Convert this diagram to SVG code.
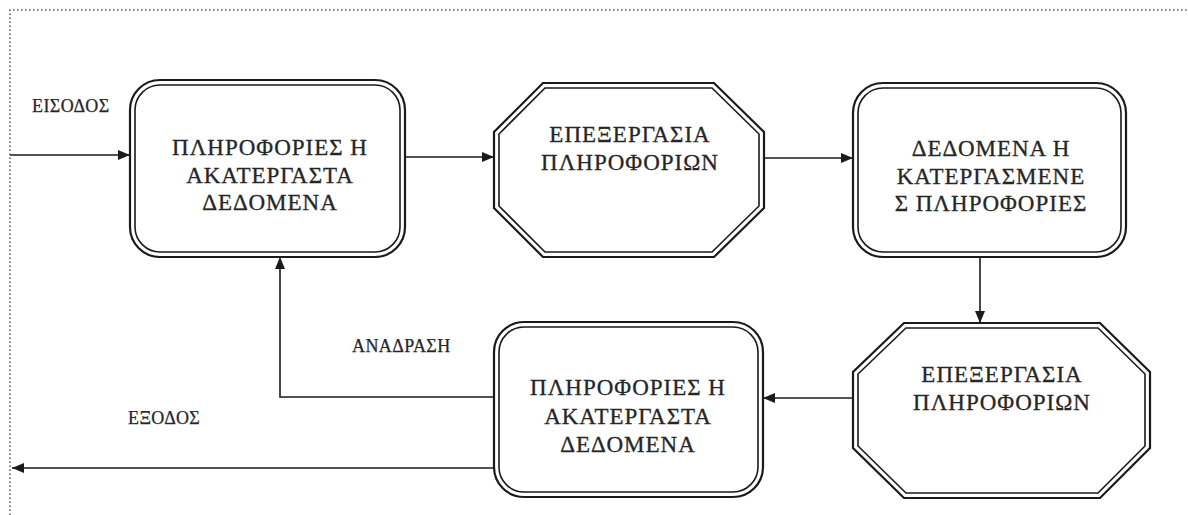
<svg xmlns="http://www.w3.org/2000/svg" width="1188" height="515" viewBox="0 0 1188 515">
  <style>
    .frame { fill: none; stroke: #555; stroke-width: 1.5; stroke-dasharray: 1.5 2.5; }
    .outer { fill: none; stroke: #1a1a1a; stroke-width: 2.2; }
    .inner { fill: none; stroke: #1a1a1a; stroke-width: 1.6; }
    .wire { fill: none; stroke: #1a1a1a; stroke-width: 1.6; }
    .box-text { font-family: "Liberation Serif", "Times New Roman", serif; font-size: 23px; letter-spacing: 1px; fill: #262626; stroke: #262626; stroke-width: 0.3; text-anchor: middle; }
    .label { font-family: "Liberation Serif", "Times New Roman", serif; font-size: 18px; letter-spacing: 0.4px; fill: #262626; stroke: #262626; stroke-width: 0.25; }
  </style>
  <defs>
    <marker id="arrow" viewBox="0 0 12 10" refX="12" refY="5" markerWidth="12" markerHeight="10" markerUnits="userSpaceOnUse" orient="auto">
      <path d="M0,0 L12,5 L0,10 Z" fill="#1a1a1a"/>
    </marker>
  </defs>

  <rect width="1188" height="515" fill="#fff"/>

  <!-- dotted page frame -->
  <path class="frame" d="M10,515 L10,10 L1188,10"/>

  <!-- connectors -->
  <g id="connectors">
    <line class="wire" x1="10" y1="155" x2="130" y2="155" marker-end="url(#arrow)"/>
    <line class="wire" x1="405" y1="157" x2="494" y2="157" marker-end="url(#arrow)"/>
    <line class="wire" x1="764" y1="158" x2="853" y2="158" marker-end="url(#arrow)"/>
    <line class="wire" x1="980" y1="257" x2="980" y2="323" marker-end="url(#arrow)"/>
    <line class="wire" x1="853" y1="398" x2="763" y2="398" marker-end="url(#arrow)"/>
    <polyline class="wire" points="494,397 280,397 280,257" marker-end="url(#arrow)"/>
    <line class="wire" x1="494" y1="468" x2="12" y2="468" marker-end="url(#arrow)"/>
    <text class="label" x="32" y="112">ΕΙΣΟΔΟΣ</text>
    <text class="label" x="352" y="352">ΑΝΑΔΡΑΣΗ</text>
    <text class="label" x="128" y="424">ΕΞΟΔΟΣ</text>
  </g>

  <!-- raw information / data -->
  <g id="node-input">
    <rect class="outer" x="130" y="80" width="275" height="177" rx="30"/>
    <rect class="inner" x="135" y="85" width="265" height="167" rx="25"/>
    <text class="box-text" x="270" y="155">ΠΛΗΡΟΦΟΡΙΕΣ Η</text>
    <text class="box-text" x="270" y="183">ΑΚΑΤΕΡΓΑΣΤΑ</text>
    <text class="box-text" x="270" y="210">ΔΕΔΟΜΕΝΑ</text>
  </g>

  <!-- processing (top) -->
  <g id="node-process-1">
    <polygon class="outer" points="543,83 714,83 764,132 764,208 714,257 543,257 494,208 494,132"/>
    <polygon class="inner" points="545,88 712,88 759,134 759,206 712,252 545,252 499,206 499,134"/>
    <text class="box-text" x="630" y="142">ΕΠΕΞΕΡΓΑΣΙΑ</text>
    <text class="box-text" x="630" y="170">ΠΛΗΡΟΦΟΡΙΩΝ</text>
  </g>

  <!-- processed data / information -->
  <g id="node-processed">
    <rect class="outer" x="853" y="83" width="273" height="174" rx="30"/>
    <rect class="inner" x="858" y="88" width="263" height="164" rx="25"/>
    <text class="box-text" x="991" y="156">ΔΕΔΟΜΕΝΑ Η</text>
    <text class="box-text" x="991" y="184">ΚΑΤΕΡΓΑΣΜΕΝΕ</text>
    <text class="box-text" x="991" y="211">Σ ΠΛΗΡΟΦΟΡΙΕΣ</text>
  </g>

  <!-- processing (bottom) -->
  <g id="node-process-2">
    <polygon class="outer" points="904,323 1100,323 1150,372 1150,448 1100,498 904,498 853,448 853,372"/>
    <polygon class="inner" points="906,328 1098,328 1145,374 1145,446 1098,493 906,493 858,446 858,374"/>
    <text class="box-text" x="1002" y="382">ΕΠΕΞΕΡΓΑΣΙΑ</text>
    <text class="box-text" x="1002" y="410">ΠΛΗΡΟΦΟΡΙΩΝ</text>
  </g>

  <!-- output information / data -->
  <g id="node-output">
    <rect class="outer" x="494" y="322" width="269" height="175" rx="30"/>
    <rect class="inner" x="499" y="327" width="259" height="165" rx="25"/>
    <text class="box-text" x="628" y="395">ΠΛΗΡΟΦΟΡΙΕΣ Η</text>
    <text class="box-text" x="628" y="424">ΑΚΑΤΕΡΓΑΣΤΑ</text>
    <text class="box-text" x="628" y="452">ΔΕΔΟΜΕΝΑ</text>
  </g>
</svg>
